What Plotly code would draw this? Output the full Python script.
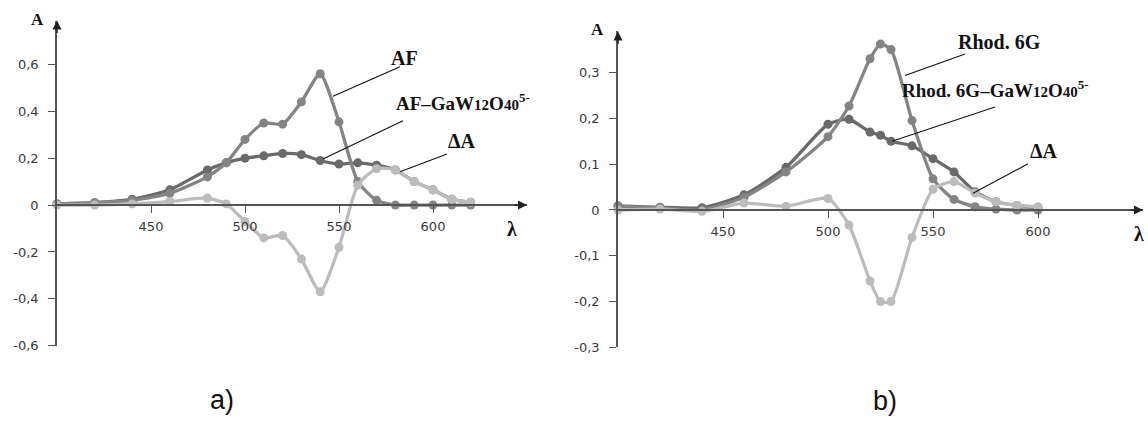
import plotly.graph_objects as go

W, H = 1148, 425

# ---------------- data: panel a) ----------------
wl_a = [400, 420, 440, 460, 480, 490, 500, 510, 520, 530, 540, 550, 560, 570, 580, 590, 600, 610, 620]
af = [0.005, 0.01, 0.02, 0.05, 0.12, 0.18, 0.28, 0.35, 0.345, 0.44, 0.56, 0.355, 0.10, 0.02, 0.0, 0.0, 0.0, 0.0, 0.0]
af_ga = [0.005, 0.01, 0.025, 0.065, 0.15, 0.18, 0.20, 0.21, 0.22, 0.215, 0.19, 0.175, 0.18, 0.17, 0.15, 0.10, 0.065, 0.025, 0.012]
dA_a = [0.0, 0.0, 0.005, 0.015, 0.03, 0.005, -0.07, -0.14, -0.13, -0.23, -0.37, -0.18, 0.085, 0.155, 0.15, 0.10, 0.065, 0.025, 0.012]
yt_a = [-0.6, -0.4, -0.2, 0, 0.2, 0.4, 0.6]
yl_a = ["-0,6", "-0,4", "-0,2", "0", "0,2", "0,4", "0,6"]

# ---------------- data: panel b) ----------------
wl_b = [400, 420, 440, 460, 480, 500, 510, 520, 525, 530, 540, 550, 560, 570, 580, 590, 600]
rh = [0.008, 0.005, 0.0, 0.028, 0.083, 0.16, 0.227, 0.33, 0.362, 0.35, 0.195, 0.068, 0.023, 0.007, 0.002, 0.0, 0.0]
rh_ga = [0.009, 0.006, 0.005, 0.033, 0.093, 0.187, 0.198, 0.17, 0.163, 0.15, 0.14, 0.112, 0.083, 0.04, 0.018, 0.01, 0.005]
dA_b = [0.0, 0.002, -0.003, 0.015, 0.008, 0.025, -0.033, -0.155, -0.2, -0.2, -0.06, 0.045, 0.062, 0.037, 0.018, 0.01, 0.007]
yt_b = [-0.3, -0.2, -0.1, 0, 0.1, 0.2, 0.3]
yl_b = ["-0,3", "-0,2", "-0,1", "0", "0,1", "0,2", "0,3"]

xt = [450, 500, 550, 600]
xl = ["450", "500", "550", "600"]

C_MID = "#848484"
C_DARK = "#6a6a6a"
C_LIGHT = "#bcbcbc"


def px(x):
    return x / W


def py(y):
    return 1 - y / H


fig = go.Figure()


def add(x, y, color, xa, ya):
    fig.add_trace(go.Scatter(
        x=x, y=y, mode="lines+markers", xaxis=xa, yaxis=ya,
        line=dict(color=color, width=3.3, shape="spline", smoothing=0.6),
        marker=dict(color=color, size=9), showlegend=False, cliponaxis=False))


add(wl_a, af_ga, C_DARK, "x", "y")
add(wl_a, af, C_MID, "x", "y")
add(wl_a, dA_a, C_LIGHT, "x", "y")
add(wl_b, rh_ga, C_DARK, "x2", "y2")
add(wl_b, rh, C_MID, "x2", "y2")
add(wl_b, dA_b, C_LIGHT, "x2", "y2")

tickfont = dict(family="DejaVu Sans", size=13, color="#3a3a3a")
axcommon = dict(showgrid=False, zeroline=False, showline=True, linecolor="#555555",
                linewidth=1.5, ticks="outside", ticklen=7, tickcolor="#555555",
                tickwidth=1.2, tickfont=tickfont, fixedrange=True)

# panel a geometry (pixels)
a_x0, a_x1 = 57, 527
a_y0pix, a_top, a_bot = 209, 21, 352.4
a_scale = 239.0  # px per unit
# panel b geometry
b_x0, b_x1 = 618, 1143
b_y0pix, b_top, b_bot = 214, 32, 354.1
b_scale = 467.0

fig.update_layout(
    width=W, height=H, margin=dict(l=0, r=0, t=0, b=0),
    paper_bgcolor="white", plot_bgcolor="rgba(0,0,0,0)",
    xaxis=dict(domain=[px(a_x0), px(a_x1)], range=[400, 650], anchor="free",
               position=py(a_y0pix), tickvals=xt, ticktext=xl, ticklabelstandoff=3, **axcommon),
    yaxis=dict(domain=[py(a_bot), py(a_top)],
               range=[-(a_bot - a_y0pix) / a_scale, (a_y0pix - a_top) / a_scale],
               anchor="x", tickvals=yt_a, ticktext=yl_a, ticklabelstandoff=7, **axcommon),
    xaxis2=dict(domain=[px(b_x0), px(b_x1)], range=[400, 650], anchor="free",
                position=py(b_y0pix), tickvals=xt, ticktext=xl, ticklabelstandoff=3, **axcommon),
    yaxis2=dict(domain=[py(b_bot), py(b_top)],
                range=[-(b_bot - b_y0pix) / b_scale, (b_y0pix - b_top) / b_scale],
                anchor="x2", tickvals=yt_b, ticktext=yl_b, ticklabelstandoff=7, **axcommon),
)

ann = []
# arrowheads on axes
for xr, yr, ytop in [("x", "y", (a_y0pix - a_top) / a_scale), ("x2", "y2", (b_y0pix - b_top) / b_scale)]:
    ann.append(dict(x=650, y=0, xref=xr, yref=yr, ax=-14, ay=0, axref="pixel", ayref="pixel",
                    text="", showarrow=True, arrowhead=2, arrowsize=1.2, arrowwidth=1.5,
                    arrowcolor="#222222"))
    ann.append(dict(x=400, y=ytop, xref=xr, yref=yr, ax=0, ay=14, axref="pixel", ayref="pixel",
                    text="", showarrow=True, arrowhead=2, arrowsize=1.2, arrowwidth=1.5,
                    arrowcolor="#222222"))

serif = "Liberation Serif"


def label(x, y, text, size=20, bold=True, family=serif):
    t = f"<b>{text}</b>" if bold else text
    ann.append(dict(x=px(x), y=py(y), xref="paper", yref="paper", text=t, showarrow=False,
                    font=dict(family=family, size=size, color="#111111"),
                    xanchor="center", yanchor="middle"))


SUB = '<span style="font-size:15px">{}</span>'
formula = ("GaW" + SUB.format("12") + "O" + SUB.format("40") +
           "<sup>" + '<span style="font-size:13px">5-</span>' + "</sup>")

label(37, 20, "A", 17)
label(597, 30, "A", 17)
label(512, 233, "λ", 20)
label(1139, 238, "λ", 20)

label(404, 59, "AF", 20)
label(463, 104, "AF–" + formula, 19)
label(462, 144, "ΔA", 20)

label(999, 43, "Rhod. 6G", 20)
label(995, 91, "Rhod. 6G–" + formula, 19)
label(1044, 154, "ΔA", 20)

label(222, 408, "a)", 27, bold=False, family="Liberation Sans")
label(885, 409, "b)", 27, bold=False, family="Liberation Sans")

shapes = []
for (x0, y0, x1, y1) in [(400, 68, 333, 98), (403, 123, 323, 162), (447, 157, 400, 175),
                         (965, 55, 905, 77), (995, 109, 892, 144), (1028, 167, 973, 197)]:
    shapes.append(dict(type="line", xref="paper", yref="paper", x0=px(x0), y0=py(y0),
                       x1=px(x1), y1=py(y1), line=dict(color="#111111", width=1.1)))

fig.update_layout(annotations=ann, shapes=shapes)

fig.write_html("out.html")
